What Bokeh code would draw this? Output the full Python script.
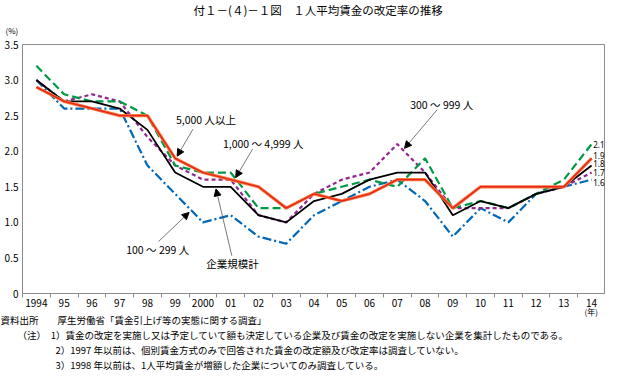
from bokeh.plotting import figure
from bokeh.models import Range1d, FixedTicker, Label, Arrow, NormalHead, Title
from bokeh.core.properties import value
from bokeh.embed import file_html
from bokeh.resources import INLINE

# ---- data ----
years = ["1994", "95", "96", "97", "98", "99", "2000", "01", "02", "03", "04",
         "05", "06", "07", "08", "09", "10", "11", "12", "13", "14"]
total     = [3.0, 2.7, 2.7, 2.6, 2.3, 1.7, 1.5, 1.5, 1.1, 1.0, 1.3, 1.4, 1.6, 1.7, 1.7, 1.1, 1.3, 1.2, 1.4, 1.5, 1.8]
size5000  = [2.9, 2.7, 2.6, 2.5, 2.5, 1.9, 1.7, 1.6, 1.5, 1.2, 1.4, 1.3, 1.4, 1.6, 1.6, 1.2, 1.5, 1.5, 1.5, 1.5, 1.9]
size1000  = [3.2, 2.8, 2.7, 2.7, 2.5, 1.8, 1.7, 1.7, 1.2, 1.2, 1.4, 1.5, 1.6, 1.5, 1.9, 1.2, 1.3, 1.2, 1.4, 1.6, 2.1]
size300   = [3.0, 2.7, 2.8, 2.7, 2.2, 1.8, 1.6, 1.6, 1.1, 1.0, 1.4, 1.6, 1.7, 2.1, 1.7, 1.2, 1.2, 1.2, 1.4, 1.5, 1.7]
size100   = [3.0, 2.6, 2.6, 2.6, 1.8, 1.4, 1.0, 1.1, 0.8, 0.7, 1.1, 1.3, 1.5, 1.6, 1.3, 0.8, 1.2, 1.0, 1.4, 1.5, 1.6]
y_ticks = [0, 0.5, 1.0, 1.5, 2.0, 2.5, 3.0, 3.5]
y_tick_labels = ["0", "0.5", "1.0", "1.5", "2.0", "2.5", "3.0", "3.5"]

title_text = "付１－(４)－１図　１人平均賃金の改定率の推移"
source_line = "資料出所　　厚生労働省「賃金引上げ等の実態に関する調査」"
note_lines = ["（注）　1）賃金の改定を実施し又は予定していて額も決定している企業及び賃金の改定を実施しない企業を集計したものである。",
              "2）1997 年以前は、個別賃金方式のみで回答された賃金の改定額及び改定率は調査していない。",
              "3）1998 年以前は、1人平均賃金が増額した企業についてのみ調査している。"]

FONT = "Noto Sans CJK JP"
W, H = 605, 375
n = len(years)
xs = list(range(n))

p = figure(width=W, height=H, output_backend="svg", toolbar_location=None,
           x_range=Range1d(-0.5, n - 0.5), y_range=Range1d(0, 3.5),
           min_border_left=22, min_border_right=0, min_border_top=44, min_border_bottom=82)
p.grid.visible = False
p.outline_line_color = "#8c8c8c"
p.outline_line_width = 1
p.background_fill_color = "white"
p.border_fill_color = "white"

# x axis: labels at category centres, ticks at category boundaries
xa = p.xaxis[0]
xa.ticker = FixedTicker(ticks=xs, minor_ticks=[i - 0.5 for i in range(n + 1)])
xa.major_label_overrides = {i: years[i] for i in xs}
xa.major_tick_out = 0
xa.major_tick_in = 0
xa.minor_tick_out = 4
xa.minor_tick_in = 0
xa.minor_tick_line_color = "#8c8c8c"
xa.axis_line_color = "#8c8c8c"
xa.major_label_text_font = FONT
xa.major_label_text_font_size = "10px"
xa.major_label_text_color = "black"
xa.major_label_standoff = 1

ya = p.yaxis[0]
ya.ticker = FixedTicker(ticks=y_ticks)
ya.major_label_overrides = {t: l for t, l in zip(y_ticks, y_tick_labels)}
ya.major_tick_out = 0
ya.major_tick_in = 0
ya.minor_tick_line_color = None
ya.axis_line_color = "#8c8c8c"
ya.major_label_text_font = FONT
ya.major_label_text_font_size = "10px"
ya.major_label_text_color = "black"
ya.major_label_standoff = 4

# series
p.line(xs, size100, line_color="#0068b7", line_width=2.2, line_dash="9 3 2 3")
p.line(xs, size300, line_color="#92278f", line_width=2.2, line_dash="4 3")
p.line(xs, size1000, line_color="#009944", line_width=2.2, line_dash="8 4")
p.line(xs, total, line_color="black", line_width=1.8)
p.line(xs, size5000, line_color="#f47a3c", line_width=3.2)
p.line(xs, size5000, line_color="#e8231c", line_width=1.4)

# end labels
finals = [size1000[-1], size5000[-1], total[-1], size300[-1], size100[-1]]
nudges = [0.0, 0.04, 0.03, 0.0, -0.04]
p.text(x=[n - 1 + 0.06] * 5, y=[f + d for f, d in zip(finals, nudges)],
       text=["%.1f" % f for f in finals], text_font=value("Noto Sans"),
       text_font_size="8px", text_color="black", text_align="left", text_baseline="middle")

# annotations (label text, label position, arrow start, arrow end)
ann = [
    ("5,000 人以上", 6.11, 2.44, 5.64, 2.31, 5.07, 1.93),
    ("1,000 ～ 4,999 人", 8.17, 2.11, 7.79, 2.03, 7.18, 1.63),
    ("300 ～ 999 人", 14.6, 2.66, 14.43, 2.58, 13.26, 2.04),
    ("100 ～ 299 人", 4.37, 0.62, 4.40, 0.73, 5.5, 1.14),
    ("企業規模計", 7.06, 0.42, 7.04, 0.53, 6.47, 1.47),
]
for t, lx, ly, x0, y0, x1, y1 in ann:
    p.add_layout(Label(x=lx, y=ly, text=t, text_font=FONT, text_font_size="10.5px",
                       text_align="center", text_baseline="middle", text_color="black"))
    p.add_layout(Arrow(x_start=x0, y_start=y0, x_end=x1, y_end=y1,
                       line_color="#555555", line_width=0.8,
                       end=NormalHead(size=7, fill_color="black", line_color="black")))

# texts outside the frame as side-panel titles
def side_title(text, side, size, offset, standoff):
    p.add_layout(Title(text=text, align="left", offset=offset, standoff=standoff,
                       text_font=FONT, text_font_size=size, text_font_style="normal",
                       text_color="black"), side)

side_title("(%)", "above", "8px", -17, 16.1)
side_title(title_text, "above", "11.5px", 171, -4.4)
side_title("(年)", "below", "8px", 562, -11)
side_title(source_line, "below", "9.5px", -22, -1.3)
side_title(note_lines[0], "below", "9.5px", -5, -1.3)
side_title(note_lines[1], "below", "9.5px", 33, -1.3)
side_title(note_lines[2], "below", "9.5px", 33, -1.3)

open("out.html", "w").write(file_html(p, INLINE))
